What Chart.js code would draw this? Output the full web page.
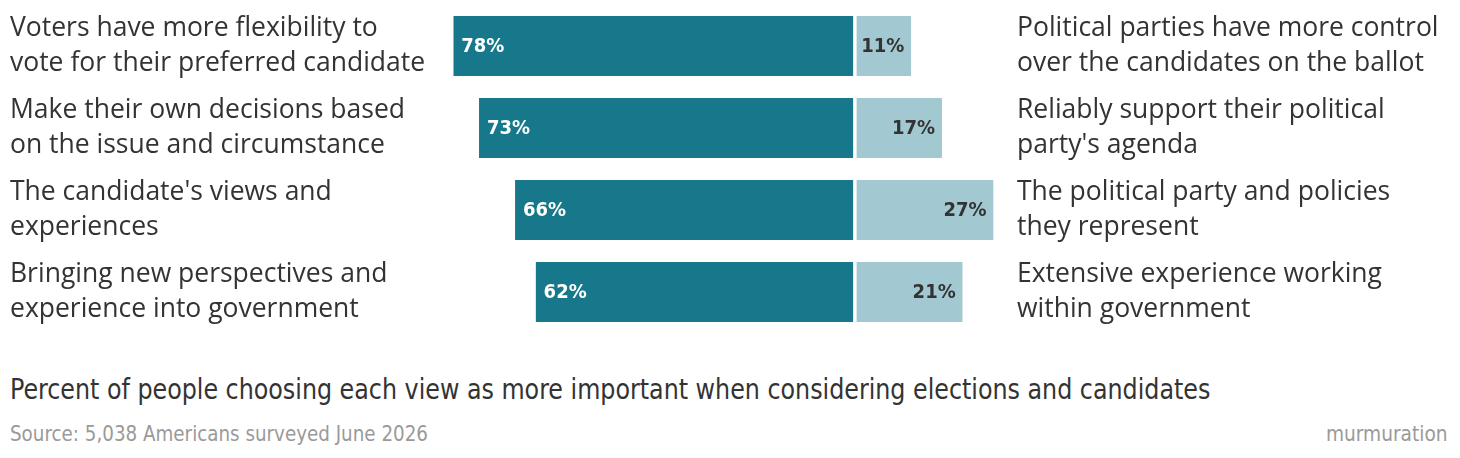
<!DOCTYPE html>
<html>
<head>
<meta charset="utf-8">
<script src="https://cdn.jsdelivr.net/npm/chart.js@4.4.1/dist/chart.umd.min.js"></script>
<style>
  body { margin: 0; background: #fff; width: 1460px; height: 458px; overflow: hidden; }
  #wrap { position: absolute; left: 0; top: 0; width: 1460px; height: 340px; }
  .cond { font-family: "Liberation Sans Narrow", "DejaVu Sans Condensed", "Roboto", sans-serif; white-space: nowrap; position: absolute; transform-origin: 0 0; }
  #title { left: 10px; top: 372px; font-size: 29px; color: #333; }
  #source { left: 10px; top: 421px; font-size: 22px; color: #9a9a9a; }
  #brand { right: 12px; top: 421px; font-size: 22px; color: #9a9a9a; transform-origin: 100% 0; }
</style>
</head>
<body>
<div id="wrap"><canvas id="chart"></canvas></div>
<div id="title" class="cond">Percent of people choosing each view as more important when considering elections and candidates</div>
<div id="source" class="cond">Source: 5,038 Americans surveyed June 2026</div>
<div id="brand" class="cond">murmuration</div>
<script>
const leftLabels = [
  ["Voters have more flexibility to", "vote for their preferred candidate"],
  ["Make their own decisions based", "on the issue and circumstance"],
  ["The candidate's views and", "experiences"],
  ["Bringing new perspectives and", "experience into government"]
];
const rightLabels = [
  ["Political parties have more control", "over the candidates on the ballot"],
  ["Reliably support their political", "party's agenda"],
  ["The political party and policies", "they represent"],
  ["Extensive experience working", "within government"]
];
const leftValues = [78, 73, 66, 62];
const rightValues = [11, 17, 27, 21];

const labelFont = "'Open Sans', Lato, sans-serif";
const condFont = "'Liberation Sans Narrow', 'DejaVu Sans Condensed', Roboto, sans-serif";

// fit the condensed footer texts to the reference widths
function squeeze(id, w) {
  const el = document.getElementById(id);
  el.style.transform = "scaleX(" + (w / el.offsetWidth) + ")";
}
squeeze("title", 1200);
squeeze("source", 418);
squeeze("brand", 122);

const valueLabels = {
  id: "valueLabels",
  afterDatasetsDraw(chart) {
    const ctx = chart.ctx;
    ctx.save();
    ctx.font = "bold 20px " + condFont;
    ctx.textBaseline = "middle";
    chart.getDatasetMeta(0).data.forEach((bar, i) => {
      ctx.fillStyle = "#fff";
      ctx.textAlign = "left";
      ctx.fillText(leftValues[i] + "%", bar.x + 8, bar.y + 1);
    });
    chart.getDatasetMeta(1).data.forEach((bar, i) => {
      ctx.fillStyle = "#333";
      ctx.textAlign = "right";
      ctx.fillText(rightValues[i] + "%", bar.x - 7, bar.y + 1);
    });
    ctx.restore();
  }
};

// drop the extra room Chart.js keeps for the first/last multi-line tick
function noEdgePadding(scale, w) {
  scale.width = w;
  scale.paddingTop = 0;
  scale.paddingBottom = 0;
}

new Chart(document.getElementById("chart"), {
  type: "bar",
  data: {
    labels: leftLabels,
    datasets: [
      {
        data: leftValues.map(v => -v),
        backgroundColor: "#16788a",
        borderColor: "#fff",
        borderWidth: { right: 1.5, left: 0, top: 0, bottom: 0 },
        borderSkipped: false
      },
      {
        data: rightValues,
        backgroundColor: "#a2c9d1",
        borderColor: "#fff",
        borderWidth: { left: 2, right: 0, top: 0, bottom: 0 },
        borderSkipped: false
      }
    ]
  },
  options: {
    indexAxis: "y",
    responsive: true,
    maintainAspectRatio: false,
    animation: false,
    barPercentage: 0.7317,
    categoryPercentage: 1,
    layout: { padding: { left: 10, top: 5, bottom: 7, right: 0 } },
    plugins: { legend: { display: false }, tooltip: { enabled: false } },
    scales: {
      x: {
        stacked: true,
        min: -80,
        max: 30,
        display: false
      },
      y: {
        stacked: true,
        position: "left",
        grid: { display: false, drawTicks: false },
        border: { display: false },
        ticks: {
          crossAlign: "far",
          color: "#333",
          font: { family: labelFont, size: 26.5, lineHeight: 1.33 },
          padding: 0
        },
        afterFit(scale) { noEdgePadding(scale, 433); }
      },
      y2: {
        position: "right",
        labels: rightLabels,
        offset: true,
        grid: { display: false, drawTicks: false },
        border: { display: false },
        ticks: {
          crossAlign: "near",
          color: "#333",
          font: { family: labelFont, size: 26.5, lineHeight: 1.33 },
          padding: 8
        },
        afterFit(scale) { noEdgePadding(scale, 451); }
      }
    }
  },
  plugins: [valueLabels]
});
</script>
</body>
</html>
